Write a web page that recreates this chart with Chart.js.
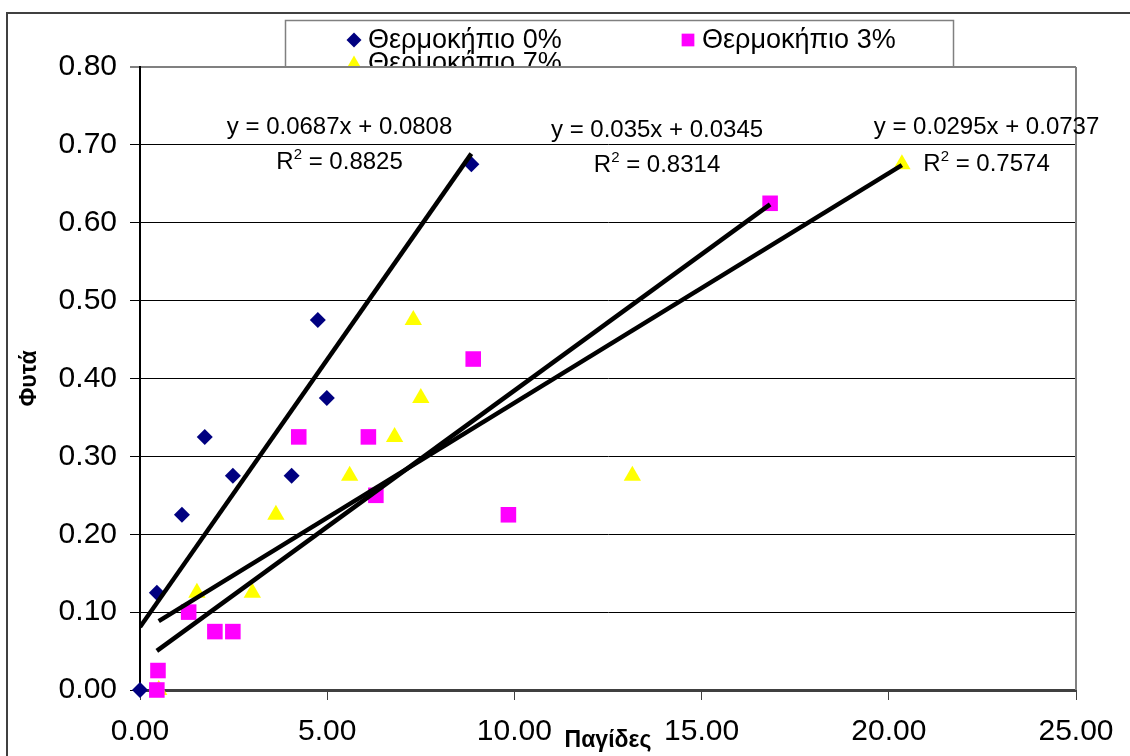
<!DOCTYPE html>
<html>
<head>
<meta charset="utf-8">
<script src="https://cdn.jsdelivr.net/npm/chart.js@4/dist/chart.umd.min.js"></script>
<style>
  body { margin: 0; background: #fff; }
  canvas { display: block; }
</style>
</head>
<body>
<canvas id="chart" width="1130" height="756"></canvas>
<script>
const seriesNames = ['Θερμοκήπιο 0%', 'Θερμοκήπιο 3%', 'Θερμοκήπιο 7%'];

// traps (x) vs plants (y) per greenhouse
const x0 = [0, 0.45, 1.12, 1.73, 2.48, 4.05, 4.75, 4.99, 8.85];
const y0 = [0, 0.125, 0.225, 0.325, 0.275, 0.275, 0.475, 0.375, 0.675];
const x3 = [0.45, 0.48, 1.3, 2.0, 2.48, 4.24, 6.1, 6.3, 8.9, 9.84, 16.83];
const y3 = [0, 0.025, 0.1, 0.075, 0.075, 0.325, 0.325, 0.25, 0.425, 0.225, 0.625];
const x7 = [0.5, 1.52, 3.0, 3.63, 5.6, 6.8, 7.3, 7.5, 13.15, 20.35];
const y7 = [0, 0.125, 0.125, 0.225, 0.275, 0.325, 0.475, 0.375, 0.275, 0.675];

// linear trendlines as printed on the chart
const slopes = [0.0687, 0.035, 0.0295];
const intercepts = [0.0808, 0.0345, 0.0737];
const r2 = ['0.8825', '0.8314', '0.7574'];

const xTicks = [0, 5, 10, 15, 20, 25];
const yTicks = [0, 0.1, 0.2, 0.3, 0.4, 0.5, 0.6, 0.7, 0.8];

const FONT = "'Liberation Sans', Arial, sans-serif";
const colors = ['#000080', '#ff00ff', '#ffff00'];
const styles = ['rectRot', 'rect', 'triangle'];
const radii = [8, 11, 10];

// where the equation labels sit, in data units
const labelPos = [
    { x: 5.33, y: 0.7255, y2: 0.6806 },
    { x: 13.81, y: 0.7217, y2: 0.6767 },
    { x: 22.61, y: 0.7255, y2: 0.678 }
];

const xs = [x0, x3, x7];
const ys = [y0, y3, y7];

function points(xArr, yArr) {
    return xArr.map((x, i) => ({ x: x, y: yArr[i] }));
}

function trend(i) {
    const lo = Math.min(...xs[i]);
    const hi = Math.max(...xs[i]);
    return [
        { x: lo, y: slopes[i] * lo + intercepts[i] },
        { x: hi, y: slopes[i] * hi + intercepts[i] }
    ];
}

const datasets = [];
for (let i = 0; i < 3; i++) {
    datasets.push({
        label: seriesNames[i],
        data: points(xs[i], ys[i]),
        pointStyle: styles[i],
        pointRadius: radii[i],
        pointHoverRadius: radii[i],
        pointBackgroundColor: colors[i],
        pointBorderWidth: 0,
        showLine: false,
        clip: false,
        order: 1
    });
}
for (let i = 0; i < 3; i++) {
    datasets.push({
        label: 'trend' + i,
        data: trend(i),
        showLine: true,
        borderColor: '#000',
        borderWidth: 4.5,
        pointRadius: 0,
        fill: false,
        order: 0
    });
}

const backdrop = {
    id: 'backdrop',
    beforeDraw(chart) {
        const ctx = chart.ctx;
        const a = chart.chartArea;
        ctx.save();
        ctx.fillStyle = '#fff';
        ctx.fillRect(0, 0, chart.width, chart.height);
        // outer chart frame
        ctx.strokeStyle = '#404040';
        ctx.lineWidth = 2;
        ctx.strokeRect(7, 13, 2000, 2000);

        // legend box, partly hidden behind the plot area
        ctx.fillStyle = '#fff';
        ctx.fillRect(285, 20, 668, 80);
        ctx.strokeStyle = '#808080';
        ctx.lineWidth = 1.5;
        ctx.strokeRect(285.5, 20.5, 668, 80);
        const slots = [{ x: 354, y: 40 }, { x: 688, y: 40 }, { x: 354, y: 63 }];
        ctx.font = '27px ' + FONT;
        ctx.textBaseline = 'middle';
        ctx.textAlign = 'left';
        for (let i = 0; i < 3; i++) {
            ctx.fillStyle = colors[i];
            Chart.helpers.drawPoint(ctx, {
                pointStyle: styles[i], radius: i === 1 ? 9 : 7.5, rotation: 0, borderWidth: 0
            }, slots[i].x, slots[i].y);
            ctx.fillStyle = '#000';
            ctx.fillText(seriesNames[i], slots[i].x + 14, slots[i].y + 1);
        }

        ctx.fillStyle = '#fff';
        ctx.fillRect(a.left, a.top, a.right - a.left, a.bottom - a.top);
        ctx.restore();
    },
    beforeDatasetsDraw(chart) {
        const ctx = chart.ctx;
        const a = chart.chartArea;
        ctx.save();
        ctx.strokeStyle = '#808080';
        ctx.lineWidth = 2;
        ctx.beginPath();
        ctx.moveTo(a.right, a.top);
        ctx.lineTo(a.right, a.bottom);
        ctx.stroke();
        ctx.restore();
    },
    afterDraw(chart) {
        const ctx = chart.ctx;
        const sx = chart.scales.x;
        const sy = chart.scales.y;
        ctx.save();
        ctx.fillStyle = '#000';
        ctx.textBaseline = 'alphabetic';
        for (let i = 0; i < 3; i++) {
            const cx = sx.getPixelForValue(labelPos[i].x);
            const eqY = sy.getPixelForValue(labelPos[i].y);
            const rY = sy.getPixelForValue(labelPos[i].y2);
            ctx.font = '24px ' + FONT;
            ctx.textAlign = 'center';
            const eq = 'y = ' + slopes[i] + 'x + ' + intercepts[i].toFixed(4);
            ctx.fillText(eq, cx, eqY + 9);

            ctx.textAlign = 'left';
            const rest = ' = ' + r2[i];
            const wR = ctx.measureText('R').width;
            const wRest = ctx.measureText(rest).width;
            ctx.font = '15px ' + FONT;
            const w2 = ctx.measureText('2').width;
            let left = cx - (wR + w2 + wRest) / 2;
            ctx.font = '24px ' + FONT;
            ctx.fillText('R', left, rY + 9);
            ctx.font = '15px ' + FONT;
            ctx.fillText('2', left + wR, rY - 1);
            ctx.font = '24px ' + FONT;
            ctx.fillText(rest, left + wR + w2, rY + 9);
        }
        ctx.restore();
    }
};

new Chart(document.getElementById('chart'), {
    type: 'scatter',
    data: { datasets: datasets },
    options: {
        responsive: false,
        animation: false,
        layout: { padding: { top: 67, right: 54, left: 0, bottom: 0 } },
        plugins: {
            legend: { display: false },
            tooltip: { enabled: false }
        },
        scales: {
            x: {
                type: 'linear',
                min: 0,
                max: 25,
                afterFit: scale => { scale.height = 66; },
                afterBuildTicks: scale => { scale.ticks = xTicks.map(v => ({ value: v })); },
                ticks: {
                    callback: v => v.toFixed(2),
                    color: '#000',
                    font: { family: FONT, size: 30 },
                    padding: 14,
                    maxRotation: 0
                },
                grid: {
                    drawOnChartArea: false,
                    drawTicks: true,
                    tickLength: 10,
                    color: '#404040',
                    lineWidth: 1
                },
                border: { color: '#404040', width: 3 },
                title: {
                    display: true,
                    text: 'Παγίδες',
                    color: '#000',
                    font: { family: FONT, size: 23, weight: 'bold' },
                    padding: { top: 0, bottom: 2 }
                }
            },
            y: {
                type: 'linear',
                min: 0,
                max: 0.8,
                afterFit: scale => { scale.width = 140; },
                afterBuildTicks: scale => { scale.ticks = yTicks.map(v => ({ value: v })); },
                ticks: {
                    callback: v => v.toFixed(2),
                    color: '#000',
                    font: { family: FONT, size: 30 },
                    padding: 13
                },
                grid: {
                    color: c => c.tick && c.tick.value >= 0.8 ? '#808080' : (c.tick && c.tick.value === 0 ? '#404040' : '#000'),
                    lineWidth: c => c.tick && c.tick.value >= 0.8 ? 2 : (c.tick && c.tick.value === 0 ? 3 : 1),
                    tickColor: '#000',
                    tickWidth: 1,
                    tickLength: 10
                },
                border: { color: '#000', width: 2 },
                title: {
                    display: true,
                    text: 'Φυτά',
                    color: '#000',
                    font: { family: FONT, size: 23, weight: 'bold' },
                    padding: { top: 16, bottom: 0 }
                }
            }
        }
    },
    plugins: [backdrop]
});
</script>
</body>
</html>
